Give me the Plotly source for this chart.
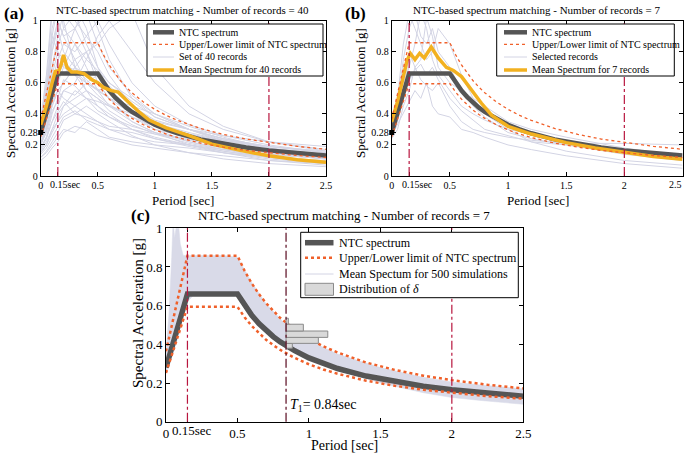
import plotly.graph_objects as go

W, H = 685, 454
FONT = "Liberation Serif"

# ---------------- data ----------------
periods = [0, 0.15, 0.5, 0.55, 0.6, 0.65, 0.7, 0.75, 0.8, 0.9, 1.0, 1.1, 1.2, 1.4, 1.6, 1.8, 2.0, 2.25, 2.5]
ntc_sa = [0.28, 0.66, 0.66, 0.60, 0.55, 0.508, 0.471, 0.44, 0.4125, 0.367, 0.33, 0.30, 0.275, 0.236, 0.206, 0.183, 0.165, 0.147, 0.132]
upper_sa = [0.364, 0.858, 0.858, 0.78, 0.715, 0.66, 0.613, 0.572, 0.536, 0.477, 0.429, 0.39, 0.358, 0.306, 0.268, 0.238, 0.215, 0.191, 0.172]
lower_sa = [0.252, 0.594, 0.594, 0.54, 0.495, 0.457, 0.424, 0.396, 0.371, 0.33, 0.297, 0.27, 0.248, 0.212, 0.186, 0.165, 0.149, 0.132, 0.119]

rec_T_a = [0, 0.05, 0.1, 0.15, 0.2, 0.3, 0.4, 0.5, 0.6, 0.8, 1.0, 1.3, 1.6, 2.0, 2.5]
records_a = [
    [0.30, 0.50, 0.90, 1.10, 1.20, 1.00, 0.90, 0.80, 0.65, 0.45, 0.35, 0.26, 0.20, 0.15, 0.11],
    [0.25, 0.40, 0.70, 0.85, 0.95, 1.05, 0.85, 0.70, 0.60, 0.50, 0.38, 0.30, 0.24, 0.18, 0.13],
    [0.15, 0.20, 0.30, 0.35, 0.40, 0.45, 0.40, 0.35, 0.30, 0.25, 0.22, 0.20, 0.17, 0.14, 0.11],
    [0.20, 0.35, 0.60, 0.70, 0.65, 0.75, 0.80, 0.60, 0.50, 0.35, 0.28, 0.22, 0.18, 0.13, 0.09],
    [0.35, 0.60, 1.05, 1.20, 0.95, 0.85, 0.70, 0.55, 0.45, 0.35, 0.28, 0.20, 0.15, 0.10, 0.07],
    [0.18, 0.25, 0.35, 0.45, 0.55, 0.60, 0.75, 0.90, 1.00, 0.80, 0.60, 0.40, 0.30, 0.22, 0.17],
    [0.12, 0.15, 0.20, 0.25, 0.30, 0.28, 0.35, 0.30, 0.25, 0.22, 0.20, 0.18, 0.15, 0.12, 0.09],
    [0.28, 0.45, 0.80, 0.95, 0.80, 0.70, 0.65, 0.60, 0.50, 0.40, 0.32, 0.25, 0.21, 0.17, 0.14],
    [0.22, 0.30, 0.50, 0.65, 0.75, 0.95, 1.10, 0.95, 0.75, 0.50, 0.40, 0.32, 0.25, 0.18, 0.12],
    [0.10, 0.13, 0.18, 0.22, 0.28, 0.32, 0.30, 0.26, 0.24, 0.20, 0.18, 0.15, 0.13, 0.10, 0.08],
    [0.32, 0.55, 0.95, 1.10, 1.00, 0.70, 0.55, 0.45, 0.40, 0.30, 0.25, 0.20, 0.16, 0.12, 0.09],
    [0.26, 0.38, 0.55, 0.60, 0.70, 0.65, 0.60, 0.55, 0.58, 0.45, 0.36, 0.30, 0.26, 0.22, 0.19],
    [0.20, 0.30, 0.45, 0.55, 0.50, 0.45, 0.50, 0.42, 0.38, 0.32, 0.28, 0.23, 0.19, 0.15, 0.12],
    [0.30, 0.50, 0.85, 1.00, 1.15, 1.10, 0.95, 0.70, 0.55, 0.40, 0.30, 0.22, 0.17, 0.12, 0.08],
    [0.16, 0.22, 0.30, 0.40, 0.45, 0.55, 0.50, 0.48, 0.45, 0.40, 0.35, 0.30, 0.24, 0.19, 0.15],
    [0.24, 0.35, 0.60, 0.75, 0.85, 0.80, 0.90, 1.00, 0.85, 0.60, 0.45, 0.33, 0.26, 0.20, 0.15],
    [0.14, 0.18, 0.25, 0.32, 0.38, 0.42, 0.36, 0.33, 0.30, 0.28, 0.24, 0.20, 0.16, 0.12, 0.10],
    [0.33, 0.55, 0.90, 0.80, 0.75, 0.65, 0.55, 0.50, 0.42, 0.33, 0.27, 0.21, 0.17, 0.14, 0.11],
    [0.28, 0.42, 0.70, 0.90, 1.05, 0.95, 0.80, 0.65, 0.55, 0.42, 0.34, 0.27, 0.22, 0.16, 0.12],
    [0.22, 0.32, 0.48, 0.55, 0.60, 0.70, 0.62, 0.55, 0.50, 0.45, 0.40, 0.30, 0.22, 0.16, 0.11],
    [0.18, 0.25, 0.40, 0.50, 0.62, 0.58, 0.50, 0.45, 0.38, 0.30, 0.24, 0.19, 0.15, 0.11, 0.08],
    [0.36, 0.65, 1.10, 1.00, 0.90, 0.75, 0.60, 0.52, 0.46, 0.38, 0.32, 0.27, 0.23, 0.19, 0.16],
    [0.12, 0.16, 0.22, 0.28, 0.36, 0.40, 0.45, 0.40, 0.35, 0.26, 0.20, 0.15, 0.11, 0.08, 0.06],
    [0.26, 0.40, 0.65, 0.80, 0.70, 0.85, 0.75, 0.68, 0.60, 0.48, 0.38, 0.30, 0.24, 0.19, 0.15],
    [0.20, 0.28, 0.42, 0.48, 0.55, 0.52, 0.60, 0.65, 0.55, 0.42, 0.32, 0.24, 0.19, 0.15, 0.12],
    [0.30, 0.48, 0.80, 1.00, 0.90, 0.95, 1.05, 0.85, 0.70, 0.52, 0.40, 0.30, 0.23, 0.17, 0.13],
    [0.17, 0.24, 0.35, 0.42, 0.48, 0.40, 0.38, 0.35, 0.32, 0.30, 0.27, 0.24, 0.21, 0.17, 0.13],
    [0.24, 0.36, 0.55, 0.65, 0.72, 0.68, 0.60, 0.56, 0.50, 0.40, 0.34, 0.28, 0.23, 0.18, 0.14],
    [0.20, 0.30, 0.45, 0.55, 0.60, 0.70, 0.80, 0.85, 0.95, 1.05, 0.70, 0.45, 0.32, 0.22, 0.16],
    [0.15, 0.20, 0.28, 0.35, 0.45, 0.50, 0.55, 0.50, 0.45, 0.38, 0.30, 0.25, 0.20, 0.16, 0.13],
]

mean_T_a = [0, 0.05, 0.1, 0.13, 0.15, 0.18, 0.2, 0.23, 0.27, 0.32, 0.38, 0.45, 0.5, 0.55, 0.62, 0.68,
            0.75, 0.85, 0.95, 1.1, 1.3, 1.5, 1.75, 2.0, 2.25, 2.5]
mean_a = [0.33, 0.45, 0.60, 0.68, 0.66, 0.72, 0.78, 0.70, 0.67, 0.67, 0.66, 0.62, 0.60, 0.57, 0.55, 0.54,
          0.49, 0.42, 0.36, 0.31, 0.26, 0.205, 0.165, 0.13, 0.105, 0.088]

rec_T_b = [0, 0.05, 0.1, 0.15, 0.2, 0.25, 0.3, 0.35, 0.4, 0.5, 0.6, 0.7, 0.8, 1.0, 1.2, 1.5, 2.0, 2.5]
records_b = [
    [0.30, 0.45, 0.75, 0.95, 1.05, 0.90, 0.85, 0.95, 0.80, 0.70, 0.55, 0.50, 0.45, 0.35, 0.30, 0.25, 0.18, 0.13],
    [0.28, 0.40, 0.60, 0.70, 0.85, 1.05, 0.95, 0.75, 0.65, 0.55, 0.45, 0.40, 0.36, 0.30, 0.27, 0.22, 0.16, 0.12],
    [0.25, 0.35, 0.50, 0.80, 0.70, 0.75, 1.02, 0.90, 0.70, 0.60, 0.55, 0.45, 0.38, 0.28, 0.24, 0.20, 0.14, 0.10],
    [0.27, 0.38, 0.55, 0.62, 0.68, 0.72, 0.65, 0.70, 0.62, 0.50, 0.42, 0.36, 0.30, 0.26, 0.22, 0.20, 0.17, 0.14],
    [0.24, 0.30, 0.45, 0.55, 0.70, 0.62, 0.58, 0.55, 0.60, 0.45, 0.35, 0.30, 0.28, 0.25, 0.23, 0.21, 0.21, 0.20],
    [0.32, 0.50, 0.85, 1.05, 0.95, 0.85, 0.75, 0.80, 0.95, 0.85, 0.65, 0.50, 0.40, 0.30, 0.22, 0.16, 0.10, 0.07],
    [0.26, 0.33, 0.40, 0.48, 0.55, 0.50, 0.60, 0.45, 0.40, 0.38, 0.30, 0.28, 0.25, 0.20, 0.17, 0.13, 0.08, 0.05],
]

mean_T_b = [0, 0.05, 0.1, 0.13, 0.16, 0.2, 0.24, 0.28, 0.34, 0.4, 0.47, 0.53, 0.6, 0.69, 0.77, 0.86,
            1.0, 1.2, 1.5, 1.75, 2.0, 2.25, 2.5]
mean_b = [0.35, 0.48, 0.64, 0.74, 0.79, 0.75, 0.79, 0.76, 0.83, 0.76, 0.70, 0.68, 0.64, 0.55, 0.47, 0.39,
          0.32, 0.27, 0.215, 0.18, 0.15, 0.125, 0.108]

band_T = [0, 0.02, 0.04, 0.05, 0.06, 0.08, 0.09, 0.1, 0.12, 0.15, 0.2, 0.3, 0.4, 0.5, 0.6, 0.7, 0.8,
          0.84, 0.9, 1.0, 1.2, 1.5, 1.8, 2.0, 2.2, 2.5]
band_hi = [0.37, 0.55, 0.85, 1.05, 0.95, 1.05, 1.0, 0.92, 0.86, 0.86, 0.86, 0.86, 0.86, 0.85, 0.72, 0.61, 0.53,
           0.50, 0.47, 0.42, 0.35, 0.28, 0.23, 0.205, 0.19, 0.17]
band_lo = [0.25, 0.29, 0.33, 0.36, 0.38, 0.43, 0.46, 0.49, 0.55, 0.62, 0.66, 0.66, 0.66, 0.66, 0.55, 0.47, 0.41,
           0.39, 0.37, 0.33, 0.27, 0.20, 0.15, 0.125, 0.11, 0.09]

delta_edges = [0.38, 0.405, 0.436, 0.469, 0.504, 0.535]
delta_len = [0.044, 0.226, 0.292, 0.121, 0.016]
T1 = 0.84
ref_periods = [0.15, 2.0]
pga = 0.28
t_max = 2.5

x_tickvals = [0, 0.15, 0.5, 1, 1.5, 2, 2.5]
x_ticktext = ["0", "", "0.5", "1", "1.5", "2", "2.5"]
x_ticktext_b = ["0", "", "0.5", "1", "1.5", "2", ""]
tb_label = "0.15sec"
y_tickvals_ab = [0, 0.2, 0.28, 0.4, 0.6, 0.8, 1]
y_ticktext_ab = ["0", "0.2", "0.28", "0.4", "0.6", "0.8", "1"]
y_tickvals_c = [0, 0.2, 0.4, 0.6, 0.8, 1]
y_ticktext_c = ["0", "0.2", "0.4", "0.6", "0.8", "1"]

# ---------------- styles ----------------
C_REC = "#d3d4e4"
C_BAND = "#d9dae8"
C_NTC = "#555555"
C_LIM = "#f0602a"
C_MEAN = "#f2b120"
C_VL = "#b8163e"
C_T1 = "#5a0a20"
C_HIST_F = "#d9d9d9"
C_HIST_L = "#8a8a8a"


def pxx(x):
    return x / W


def pxy(y):
    return 1 - y / H


fig = go.Figure()


def add_panel(ax, recT, recs, meanT, meanv):
    xa, ya = ("x" + ax, "y" + ax)
    for r in recs:
        fig.add_trace(go.Scatter(x=recT, y=r, mode="lines", line=dict(color=C_REC, width=1),
                                 xaxis=xa, yaxis=ya, showlegend=False, hoverinfo="skip"))
    fig.add_trace(go.Scatter(x=periods, y=ntc_sa, mode="lines", line=dict(color=C_NTC, width=4.5),
                             xaxis=xa, yaxis=ya, showlegend=False))
    fig.add_trace(go.Scatter(x=meanT, y=meanv, mode="lines", line=dict(color=C_MEAN, width=3.5),
                             xaxis=xa, yaxis=ya, showlegend=False))
    for lim in (upper_sa, lower_sa):
        fig.add_trace(go.Scatter(x=periods, y=lim, mode="lines", line=dict(color=C_LIM, width=1.3, dash="dot"),
                                 xaxis=xa, yaxis=ya, showlegend=False))
    fig.add_trace(go.Scatter(x=[0], y=[pga], mode="markers", marker=dict(symbol="square", size=5, color="black"),
                             xaxis=xa, yaxis=ya, showlegend=False, cliponaxis=False))


add_panel("", rec_T_a, records_a, mean_T_a, mean_a)
add_panel("2", rec_T_b, records_b, mean_T_b, mean_b)

# panel c
fig.add_trace(go.Scatter(x=band_T, y=band_lo, mode="lines", line=dict(color=C_BAND, width=0.5),
                         xaxis="x3", yaxis="y3", showlegend=False))
fig.add_trace(go.Scatter(x=band_T, y=band_hi, mode="lines", line=dict(color=C_BAND, width=0.5),
                         fill="tonexty", fillcolor=C_BAND, xaxis="x3", yaxis="y3", showlegend=False))
fig.add_trace(go.Scatter(x=periods, y=ntc_sa, mode="lines", line=dict(color=C_NTC, width=5.5),
                         xaxis="x3", yaxis="y3", showlegend=False))
for lim in (upper_sa, lower_sa):
    fig.add_trace(go.Scatter(x=periods, y=lim, mode="lines", line=dict(color=C_LIM, width=2.5, dash="dot"),
                             xaxis="x3", yaxis="y3", showlegend=False))
for i, L in enumerate(delta_len):
    lo, hi = delta_edges[i], delta_edges[i + 1]
    fig.add_trace(go.Scatter(x=[T1, T1 + L, T1 + L, T1, T1], y=[lo, lo, hi, hi, lo], mode="lines",
                             fill="toself", fillcolor=C_HIST_F, line=dict(color=C_HIST_L, width=1),
                             xaxis="x3", yaxis="y3", showlegend=False))


# ---------------- axes ----------------
def ax_common(fs):
    return dict(showline=True, linecolor="black", linewidth=1, mirror="ticks", ticks="inside",
                ticklen=4, tickcolor="black", showgrid=False, zeroline=False, automargin=False,
                tickangle=0, tickfont=dict(family=FONT, size=fs, color="black"))


dom_a_x = [pxx(40.7), pxx(326)]
dom_b_x = [pxx(391.7), pxx(682.5)]
dom_ab_y = [pxy(176), pxy(20.7)]
dom_c_x = [pxx(166), pxx(523.3)]
dom_c_y = [pxy(421.7), pxy(228.3)]

layout = dict(
    width=W, height=H, margin=dict(l=0, r=0, t=0, b=0), paper_bgcolor="white", plot_bgcolor="white",
    showlegend=False, font=dict(family=FONT, color="black"),
)
for name, dx, dy, anc, fs, xt, yv, yt in [
    ("", dom_a_x, dom_ab_y, "", 10, x_ticktext, y_tickvals_ab, y_ticktext_ab),
    ("2", dom_b_x, dom_ab_y, "2", 10, x_ticktext_b, y_tickvals_ab, y_ticktext_ab),
    ("3", dom_c_x, dom_c_y, "3", 13, x_ticktext, y_tickvals_c, y_ticktext_c),
]:
    layout["xaxis" + name] = dict(ax_common(fs), domain=dx, range=[0, t_max], anchor="y" + anc,
                                  tickmode="array", tickvals=x_tickvals, ticktext=xt)
    layout["yaxis" + name] = dict(ax_common(fs), domain=dy, range=[0, 1], anchor="x" + anc,
                                  tickmode="array", tickvals=yv, ticktext=yt)
fig.update_layout(**layout)

shapes = []
for ax in ["", "2", "3"]:
    for t in ref_periods:
        shapes.append(dict(type="line", xref="x" + ax, yref=("y" + ax + " domain") if ax else "y domain",
                           x0=t, x1=t, y0=0, y1=1, line=dict(color=C_VL, width=1.2, dash="dashdot"),
                           layer="above"))
shapes.append(dict(type="line", xref="x3", yref="y3 domain", x0=T1, x1=T1, y0=0, y1=1,
                   line=dict(color=C_T1, width=1.2, dash="dashdot"), layer="above"))

annotations = []

# "0.15sec" tick labels (placed slightly right of the tick, as in the reference)
for xr, ypix, shift, fs in [("x", 184, -9.5, 10), ("x2", 184, -9.5, 10), ("x3", 430, -17, 13)]:
    annotations.append(dict(text=tb_label, xref=xr, yref="paper", x=ref_periods[0], y=pxy(ypix),
                            xanchor="left", yanchor="middle", xshift=shift, showarrow=False,
                            font=dict(family=FONT, size=fs, color="black")))
# last tick label of panel (b), kept inside the page
annotations.append(dict(text="2.5", xref="x2", yref="paper", x=t_max, y=pxy(184), xanchor="right",
                        yanchor="middle", xshift=1.5, showarrow=False,
                        font=dict(family=FONT, size=10, color="black")))


def add_legend(box, sx0, sx1, tx, rows, fs, wide):
    shapes.append(dict(type="rect", xref="paper", yref="paper", x0=pxx(box[0]), x1=pxx(box[2]),
                       y0=pxy(box[3]), y1=pxy(box[1]), line=dict(color="black", width=1),
                       fillcolor="white", layer="above"))
    for y, text, kind in rows:
        if kind == "hist":
            shapes.append(dict(type="rect", xref="paper", yref="paper", x0=pxx(sx0), x1=pxx(sx1),
                               y0=pxy(y + 6), y1=pxy(y - 6), line=dict(color=C_HIST_L, width=1),
                               fillcolor=C_HIST_F, layer="above"))
        else:
            st = {
                "ntc": dict(color=C_NTC, width=5.5 if wide else 4.5),
                "lim": dict(color=C_LIM, width=2.5 if wide else 1.3, dash="dot"),
                "rec": dict(color=C_REC, width=1),
                "mean": dict(color=C_MEAN, width=3.5),
            }[kind]
            shapes.append(dict(type="line", xref="paper", yref="paper", x0=pxx(sx0), x1=pxx(sx1),
                               y0=pxy(y), y1=pxy(y), line=st, layer="above"))
        annotations.append(dict(text=text, xref="paper", yref="paper", x=pxx(tx), y=pxy(y),
                                xanchor="left", yanchor="middle", showarrow=False,
                                font=dict(family=FONT, size=fs, color="black")))


add_legend((147, 24, 323, 76), 153, 174, 177, [
    (32.3, "NTC spectrum", "ntc"),
    (44.3, "Upper/Lower limit of NTC spectrum", "lim"),
    (57, "Set of 40 records", "rec"),
    (70, "Mean Spectrum for 40 records", "mean"),
], 10, False)
add_legend((496.7, 24, 674.3, 76), 504, 527, 530, [
    (32.3, "NTC spectrum", "ntc"),
    (44.3, "Upper/Lower limit of NTC spectrum", "lim"),
    (57, "Selected records", "rec"),
    (70, "Mean Spectrum for 7 records", "mean"),
], 10, False)
add_legend((300.7, 232.3, 518.3, 297.7), 305, 333.5, 336.5, [
    (242.7, "NTC spectrum", "ntc"),
    (257.7, "Upper/Lower limit of NTC spectrum", "lim"),
    (274, "Mean Spectum for 500 simulations", "rec"),
    (289.3, "Distribution of <i>δ</i>", "hist"),
], 12, True)


def ann(text, x, y, size, angle=0, xanchor="center", bold=False):
    annotations.append(dict(text=("<b>%s</b>" % text) if bold else text, xref="paper", yref="paper",
                            x=pxx(x), y=pxy(y), xanchor=xanchor, yanchor="middle", showarrow=False,
                            textangle=angle, font=dict(family=FONT, size=size, color="black")))


ann("NTC-based spectrum matching - Number of records = 40", 183, 10, 11)
ann("NTC-based spectrum matching - Number of records = 7", 536, 10, 11)
ann("NTC-based spectrum matching - Number of records = 7", 344, 215, 13)
ann("(a)", 2, 13, 17, xanchor="left", bold=True)
ann("(b)", 343, 13, 17, xanchor="left", bold=True)
ann("(c)", 129, 215, 17, xanchor="left", bold=True)
ann("Period [sec]", 183, 200, 13)
ann("Period [sec]", 538, 200, 13)
ann("Period [sec]", 344, 445, 14)
ann("Spectral Acceleration [g]", 10, 93, 13, angle=-90)
ann("Spectral Acceleration [g]", 360, 93, 13, angle=-90)
ann("Spectral Acceleration [g]", 138, 313, 15, angle=-90)
annotations.append(dict(text="<i>T</i><sub>1</sub>= 0.84sec", xref="x3", yref="y3", x=T1, y=0.085,
                        xanchor="left", yanchor="middle", xshift=2, showarrow=False,
                        font=dict(family=FONT, size=14, color="black")))

fig.update_layout(shapes=shapes, annotations=annotations)
fig.write_html("out.html", config={"displayModeBar": False},
               post_script="document.body.style.margin='0';document.body.style.overflow='hidden';")
